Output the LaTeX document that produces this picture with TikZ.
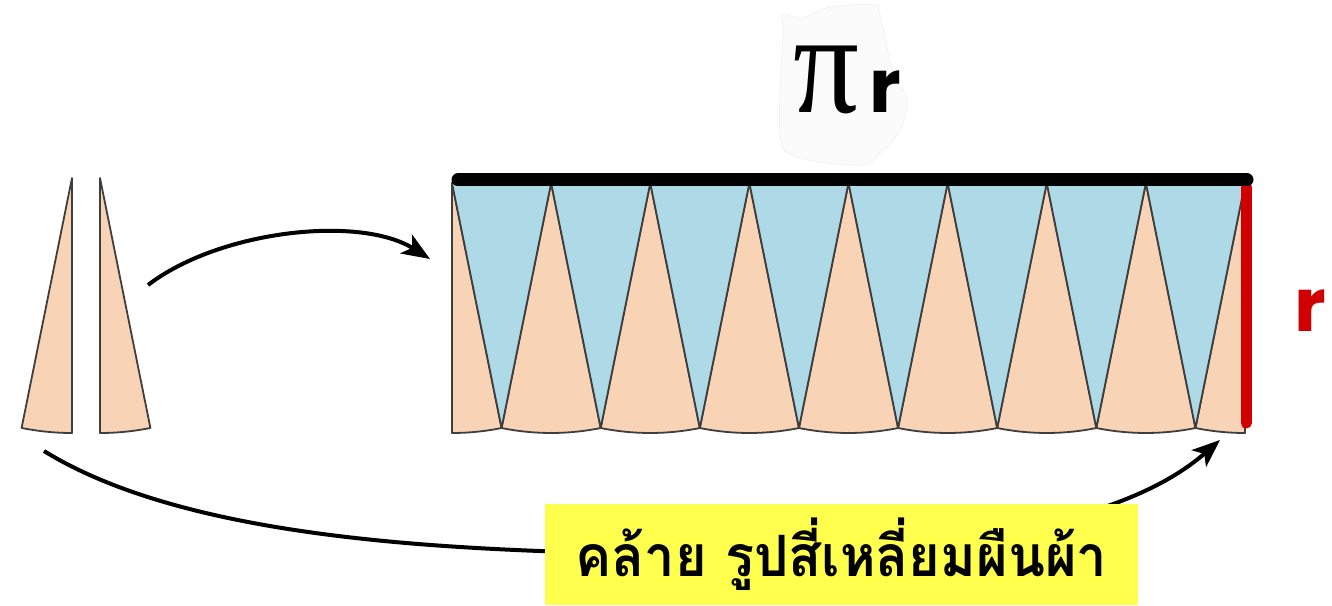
\documentclass[tikz,border=0pt]{standalone}
\usepackage{fontspec}
\usetikzlibrary{arrows.meta}
\newfontfamily\thaifont[Script=Thai]{Loma}
\newfontfamily\rfont{Poppins}
\newfontfamily\pifont{Liberation Serif}
\definecolor{peach}{RGB}{249,211,181}
\definecolor{skyb}{RGB}{174,217,230}
\definecolor{edgeg}{RGB}{62,62,62}
\definecolor{rred}{RGB}{208,0,0}
\definecolor{ylw}{RGB}{255,255,77}
\begin{document}
\begin{tikzpicture}[x=1pt,y=1pt,
  peachw/.style={fill=peach,draw=edgeg,line width=1.8pt,line join=round},
  bluew/.style={fill=skyb,draw=edgeg,line width=1.8pt,line join=round},
  arr/.style={line width=4pt,-{Stealth[length=28pt,width=22pt,inset=7pt]}},
  lblbox/.style={fill=ylw,minimum width=593pt,minimum height=101pt,inner sep=0pt}]
\useasboundingbox (0,0) rectangle (1332,605);
\fill[white] (0,0) rectangle (1332,605);
% faint background patch behind pi r
\draw[draw=black!7,fill=black!1.5,line width=0.5pt] plot[smooth cycle,tension=0.6] coordinates
 {(782,590) (803,587) (830,598) (873,600) (880,590) (893,532) (907,505) (900,475) (880,452) (860,440) (797,448) (780,472) (783,572)};
% left wedges
\draw[peachw] (72,427) -- ++(258.6:255) arc[start angle=258.6,end angle=270,radius=255] -- cycle;
\draw[peachw] (100,427) -- ++(270:255) arc[start angle=270,end angle=281.4,radius=255] -- cycle;
% rectangle of sectors
\draw[peachw] (452,422) -- ++(270:250) arc[start angle=270,end angle=281.44,radius=250] -- cycle;
\draw[peachw] (1245,422) -- ++(258.56:250) arc[start angle=258.56,end angle=270,radius=250] -- cycle;
\foreach \k in {1,...,7}{
  \pgfmathsetmacro\cx{452+\k*99.125}
  \draw[peachw] (\cx,422) -- ++(258.56:250) arc[start angle=258.56,end angle=281.44,radius=250] -- cycle;
}
\foreach \k in {0,...,7}{
  \pgfmathsetmacro\bx{452+(\k+0.5)*99.125}
  \draw[bluew] (\bx,177) -- ++(78.56:250) arc[start angle=78.56,end angle=101.44,radius=250] -- cycle;
}
\coordinate (rtopc) at (1246,418);
\coordinate (rbotc) at (1246,182);
\draw[rred,line width=11pt,line cap=round] (rtopc) -- (rbotc);
\coordinate (tl) at (458,425);
\coordinate (tr) at (1247,425);
\draw[black,line width=13pt,line cap=round] (tl) -- (tr);
% arrows
\coordinate (a1s) at (148,320);
\coordinate (a1e) at (430,346);
\draw[arr] (a1s) .. controls (220,375) and (360,390) .. (a1e);
\coordinate (a2s) at (44,154);
\coordinate (a2m) at (600,52);
\coordinate (a2e) at (1220,165);
\draw[arr] (a2s) .. controls (180,70) and (420,57) .. (a2m) .. controls (850,47) and (1100,60) .. (a2e);
% labels
\node[lblbox] (lbl) at (841.5,50.5) {\scalebox{0.95}[1]{\thaifont\bfseries\fontsize{57}{57}\selectfont คล้าย รูปสี่เหลี่ยมผืนผ้า}};
\node[anchor=base,inner sep=0pt] (pisym) at (826,492) {\scalebox{0.9}[1]{\pifont\fontsize{145}{145}\selectfont π}};
\node[anchor=base,inner sep=0pt] (rtop) at (885,492) {\rfont\bfseries\fontsize{74}{74}\selectfont r};
\node[anchor=base,inner sep=0pt,text=rred] (rside) at (1310,273) {\rfont\bfseries\fontsize{74}{74}\selectfont r};
\end{tikzpicture}
\end{document}
